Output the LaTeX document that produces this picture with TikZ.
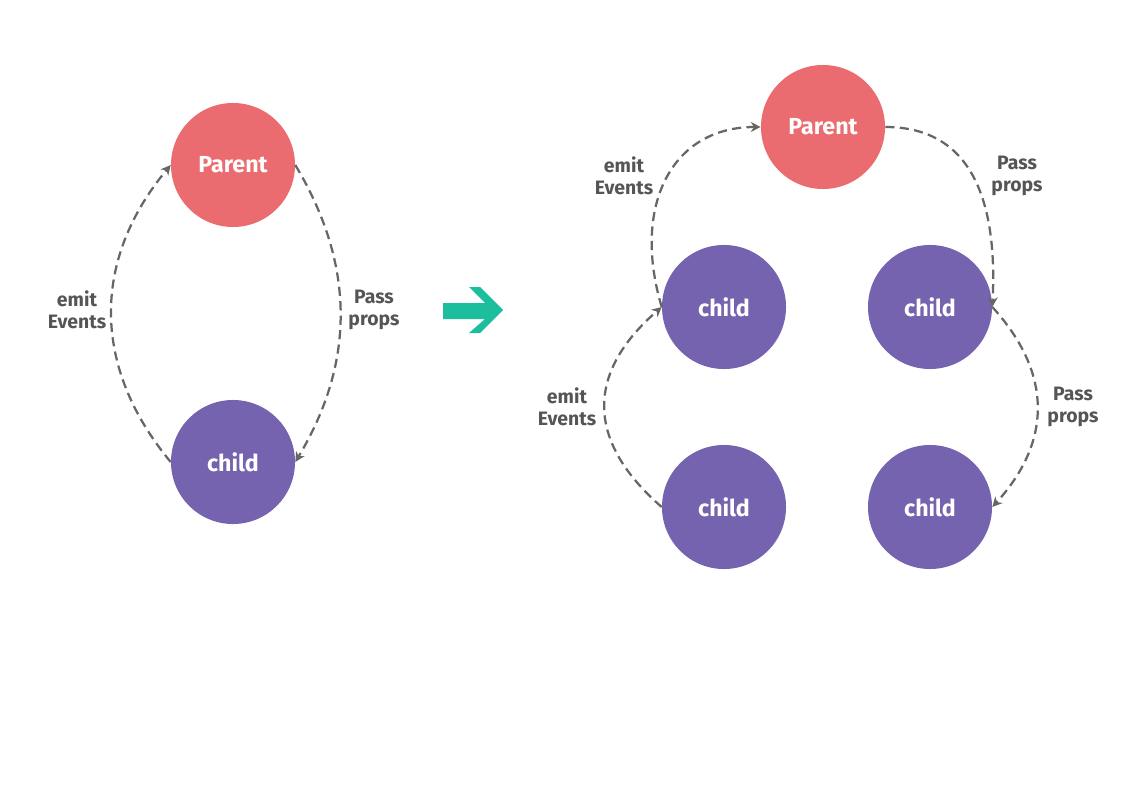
\documentclass[tikz,border=0pt]{standalone}
\usepackage{fontspec}
\setmainfont{Fira Sans}
\usepackage{tikz}
\usetikzlibrary{arrows.meta, positioning}
\definecolor{parentred}{RGB}{235, 108, 112}
\definecolor{childpurple}{RGB}{117, 99, 176}
\definecolor{flowteal}{RGB}{28, 190, 158}
\definecolor{dashgray}{RGB}{102, 102, 102}
\definecolor{labelgray}{RGB}{85, 85, 85}

\begin{document}
\begin{tikzpicture}[x=0.025cm, y=-0.025cm,
    bubble/.style={circle, minimum size=3.1cm, inner sep=0pt, text=white,
        font=\bfseries\fontsize{16.5}{19}\selectfont},
    parentnode/.style={bubble, fill=parentred},
    childnode/.style={bubble, fill=childpurple},
    flowlabel/.style={align=center, text=labelgray,
        font=\bfseries\fontsize{13.8}{15.5}\selectfont},
    flow/.style={dashgray, line width=1.6pt, dash pattern=on 6.5pt off 3.8pt,
        -{Stealth[length=7pt, width=7pt]}}]
    \useasboundingbox (0,0) rectangle (1123,794);

    % Simple two-level block
    \node[parentnode] (p) at (233,165) {Parent};
    \node[childnode] (c) at (233,462) {child};
    \draw[flow] (c.west) .. controls +(-79,-95) and +(-79,95) .. (p.west);
    \draw[flow] (p.east) .. controls +(60,100) and +(60,-100) .. (c.east);
    \node[flowlabel] (le) at (77,310) {emit\\Events};
    \node[flowlabel] (lp) at (374,310) {Pass\\props};

    % Transition arrow
    \fill[flowteal] (443,303) -- (485,303) -- (469,287) -- (480,287) -- (503,310)
        -- (480,333) -- (469,333) -- (485,319) -- (443,319) -- cycle;

    % Nested tree
    \node[parentnode] (rp) at (823,127) {Parent};
    \node[childnode] (ca) at (724,307) {child};
    \node[childnode] (cb) at (930,307) {child};
    \node[childnode] (cc) at (724,507) {child};
    \node[childnode] (cd) at (930,507) {child};
    \draw[flow] (ca.west) .. controls +(-30,-100) and +(-90,0) .. (rp.west);
    \draw[flow] (rp.east) .. controls +(90,0) and +(5,-100) .. (cb.east);
    \draw[flow] (cc.west) .. controls +(-76,-66) and +(-76,66) .. (ca.west);
    \draw[flow] (cb.east) .. controls +(60,66) and +(60,-66) .. (cd.east);
    \node[flowlabel] (re1) at (624,176) {emit\\Events};
    \node[flowlabel] (rp1) at (1017,176) {Pass\\props};
    \node[flowlabel] (re2) at (567,407) {emit\\Events};
    \node[flowlabel] (rp2) at (1073,407) {Pass\\props};
\end{tikzpicture}
\end{document}
